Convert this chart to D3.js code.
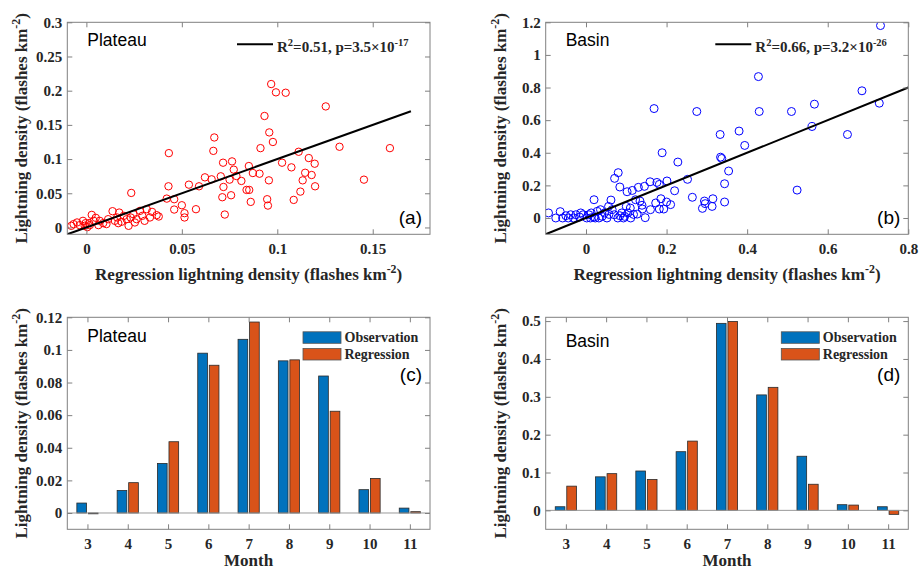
<!DOCTYPE html>
<html>
<head>
<meta charset="utf-8">
<script src="https://cdn.jsdelivr.net/npm/d3@7"></script>
<style>
  html, body { margin: 0; padding: 0; background: #fff; }
</style>
</head>
<body>
<div id="chart"></div>
<script>
// months for the bar panels
const months = [3, 4, 5, 6, 7, 8, 9, 10, 11];
const plateauObs = [0.0061, 0.0138, 0.0304, 0.098, 0.1065, 0.0933, 0.0840, 0.0143, 0.0030];
const plateauReg = [-0.0005, 0.0186, 0.0437, 0.0906, 0.1171, 0.0939, 0.0624, 0.0212, 0.0008];
const basinObs = [0.0096, 0.0886, 0.104, 0.155, 0.494, 0.305, 0.143, 0.015, 0.0096];
const basinReg = [0.064, 0.097, 0.0816, 0.183, 0.499, 0.325, 0.069, 0.014, -0.0105];

// scatter, plateau (regression x, observed y)
const plateauX = [0.0968, 0.0993, 0.1044, 0.1254, 0.0933, 0.0958, 0.0977, 0.0912, 0.067, 0.0665,
  0.1326, 0.159, 0.0432, 0.1112, 0.1165, 0.0716, 0.0763, 0.1025, 0.1196, 0.0851,
  0.1074, 0.0772, 0.0621, 0.0704, 0.0786, 0.0872, 0.0907, 0.1146, 0.118, 0.0656,
  0.075, 0.0812, 0.0956, 0.1133, 0.1454, 0.0537, 0.059, 0.043, 0.0718, 0.0839,
  0.0853, 0.1121, 0.1198, 0.0235, 0.0421, 0.046, 0.0712, 0.0758, 0.0861, 0.0947,
  0.0951, 0.1086, 0.05, 0.046, 0.0574, 0.0514, 0.0514, 0.0725,
  -0.0079, -0.0067, -0.0049, -0.0035, -0.0018, -0.0009, 0.0005, 0.0014, 0.0028, 0.0039,
  0.0049, 0.0063, 0.0088, 0.0114, 0.0137, 0.0149, 0.0161, 0.0172, 0.0184, 0.0196,
  0.0211, 0.0221, 0.0232, 0.0246, 0.0263, 0.0281, 0.0293, 0.0305, 0.0316, 0.0333,
  0.0344, 0.0368, 0.0379, -0.0004, 0.0018, 0.007, 0.0105, 0.0167, 0.0254];
const plateauY = [0.2097, 0.1976, 0.197, 0.177, 0.163, 0.139, 0.125, 0.116, 0.1316, 0.112,
  0.118, 0.116, 0.1087, 0.1107, 0.1015, 0.0947, 0.0966, 0.0947, 0.0932, 0.0898,
  0.0879, 0.0845, 0.0733, 0.0748, 0.0752, 0.0796, 0.0786, 0.08, 0.0767, 0.0704,
  0.0699, 0.068, 0.0689, 0.0689, 0.0699, 0.0626, 0.0602, 0.0602, 0.0592, 0.0549,
  0.0549, 0.0524, 0.0602, 0.0505, 0.0422, 0.0413, 0.0442, 0.0471, 0.0374, 0.0413,
  0.032, 0.0403, 0.0325, 0.0262, 0.0267, 0.0209, 0.0146, 0.0189,
  0.0024, 0.0049, 0.0073, 0.0034, 0.0097, 0.0024, 0.0005, 0.0063, 0.0184, 0.0097,
  0.0141, 0.0034, 0.0063, 0.0121, 0.0238, 0.0097, 0.0146, 0.0218, 0.0083, 0.017,
  0.0121, 0.0024, 0.0146, 0.0194, 0.0121, 0.0243, 0.017, 0.0097, 0.0267, 0.0146,
  0.0228, 0.018, 0.016, 0.0063, 0.0034, 0.0097, 0.0049, 0.0063, 0.0073];

// scatter, basin
const basinX = [0.731, 0.428, 0.685, 0.169, 0.275, 0.43, 0.51, 0.567, 0.728, 0.561,
  0.649, 0.333, 0.38, 0.394, 0.189, 0.228, 0.334, 0.337, 0.354, 0.344,
  0.524, 0.08, 0.071, 0.084, 0.252, 0.201, 0.159, 0.176, 0.182, 0.22,
  0.264, 0.294, 0.296, 0.315, 0.313, 0.344, 0.289, 0.102, 0.115, 0.13,
  0.145, 0.02, 0.062, 0.173, 0.186, 0.2, 0.21, 0.182, 0.193, 0.16,
  0.134, 0.139, 0.123, 0.11, 0.127, 0.14, 0.147, 0.1, 0.056,
  -0.093, -0.075, -0.064, -0.058, -0.05, -0.044, -0.038, -0.031, -0.025, -0.016,
  -0.007, 0.002, 0.007, 0.013, 0.02, 0.028, 0.032, 0.036, 0.04, 0.046,
  0.052, 0.057, 0.065, 0.07, 0.079, 0.084, 0.089, 0.093, 0.096, 0.104,
  0.111, 0.118, 0.023, -0.013, 0.011];
const basinY = [1.18, 0.867, 0.78, 0.671, 0.653, 0.653, 0.653, 0.698, 0.704, 0.561,
  0.512, 0.512, 0.533, 0.445, 0.4, 0.343, 0.373, 0.365, 0.288, 0.21,
  0.171, 0.278, 0.243, 0.19, 0.237, 0.227, 0.222, 0.218, 0.206, 0.167,
  0.127, 0.104, 0.088, 0.118, 0.071, 0.098, 0.059, 0.161, 0.169, 0.188,
  0.194, 0.112, 0.11, 0.092, 0.118, 0.098, 0.082, 0.055, 0.055, 0.051,
  0.104, 0.078, 0.112, 0.061, 0.024, 0.055, 0.002, 0.071, 0.071,
  0.031, 0.0, 0.039, 0.0, 0.014, 0.0, 0.02, 0.0, 0.02, 0.006,
  0.02, 0.0, 0.02, 0.031, 0.006, 0.041, 0.0, 0.051, 0.01, 0.031,
  0.0, 0.022, 0.051, 0.02, 0.0, 0.014, 0.031, 0.0, 0.01, 0.031,
  0.0, 0.022, 0.0, 0.031, 0.0];

// fitted lines (1:1)
const plateauFitX = [-0.01, 0.17], plateauFitY = [-0.01, 0.17];
const basinFitX = [-0.1, 0.8], basinFitY = [-0.1, 0.8];

// tick labels
const plateauScatterXTicks = [0, 0.05, 0.1, 0.15];
const plateauScatterYTicks = [0, 0.05, 0.1, 0.15, 0.2, 0.25, 0.3];
const basinScatterXTicks = [0, 0.2, 0.4, 0.6, 0.8];
const basinScatterYTicks = [0, 0.2, 0.4, 0.6, 0.8, 1, 1.2];
const plateauBarYTicks = [0, 0.02, 0.04, 0.06, 0.08, 0.1, 0.12];
const basinBarYTicks = [0, 0.1, 0.2, 0.3, 0.4, 0.5];

const W = 919, H = 570;
const serif = "'Liberation Serif', 'Times New Roman', serif";
const sans = "'Liberation Sans', Arial, sans-serif";
const axisGray = "#808080";
const textCol = "#262626";

const svg = d3.select("#chart").append("svg")
  .attr("width", W).attr("height", H)
  .attr("xmlns", "http://www.w3.org/2000/svg");

// text with superscript pieces: parts = [[text, isSup], ...]
function supText(sel, parts, size) {
  let up = false;
  parts.forEach(([t, sup]) => {
    const ts = sel.append("tspan").text(t);
    if (sup && !up) { ts.attr("dy", -size * 0.42).attr("font-size", size * 0.7); up = true; }
    else if (sup) { ts.attr("font-size", size * 0.7); }
    else if (up) { ts.attr("dy", size * 0.42); up = false; }
  });
}

const yTitleParts = [["Lightning density (flashes km", false], ["-2", true], [")", false]];
const xTitleParts = [["Regression lightning density (flashes km", false], ["-2", true], [")", false]];

function frame(box, x, y, xTicks, yTicks) {
  const g = svg.append("g");
  const fmt = d => String(d);
  const styleAxis = a => {
    a.select(".domain").remove();
    a.selectAll(".tick line").attr("stroke", axisGray).attr("stroke-width", 1);
    a.selectAll(".tick text").attr("fill", textCol)
      .attr("font-family", serif).attr("font-weight", "bold").attr("font-size", 15);
  };
  g.append("g").attr("transform", `translate(0,${box.bottom})`)
    .call(d3.axisBottom(x).tickValues(xTicks).tickFormat(fmt).tickSize(-5).tickPadding(9))
    .call(styleAxis);
  g.append("g").attr("transform", `translate(${box.left},0)`)
    .call(d3.axisLeft(y).tickValues(yTicks).tickFormat(fmt).tickSize(-5).tickPadding(5))
    .call(styleAxis);
  g.append("g").attr("transform", `translate(0,${box.top})`)
    .call(d3.axisTop(x).tickValues(xTicks).tickFormat("").tickSize(-5))
    .call(styleAxis);
  g.append("g").attr("transform", `translate(${box.right},0)`)
    .call(d3.axisRight(y).tickValues(yTicks).tickFormat("").tickSize(-5))
    .call(styleAxis);
  g.append("rect")
    .attr("x", box.left).attr("y", box.top)
    .attr("width", box.right - box.left).attr("height", box.bottom - box.top)
    .attr("fill", "none").attr("stroke", axisGray).attr("stroke-width", 1);

  // y title
  const cy = (box.top + box.bottom) / 2;
  const yt = g.append("text")
    .attr("transform", `translate(${box.left - 40},${cy}) rotate(-90)`)
    .attr("text-anchor", "middle").attr("font-family", serif).attr("font-weight", "bold")
    .attr("font-size", 17).attr("fill", textCol);
  supText(yt, yTitleParts, 17);
  return g;
}

function cornerLabels(box, name, nameY, letter, letterY) {
  svg.append("text").attr("x", box.left + 20).attr("y", nameY)
    .attr("font-family", sans).attr("font-size", 17.5).attr("fill", "#000").text(name);
  svg.append("text").attr("x", box.right - 8).attr("y", letterY)
    .attr("text-anchor", "end").attr("font-family", sans).attr("font-size", 19)
    .attr("fill", "#000").text(letter);
}

function scatterPanel(box, xDom, yDom, xs, ys, fitX, fitY, xTicks, yTicks, color, r, name, letter, stat, id) {
  const x = d3.scaleLinear().domain(xDom).range([box.left, box.right]);
  const y = d3.scaleLinear().domain(yDom).range([box.bottom, box.top]);

  svg.append("clipPath").attr("id", id).append("rect")
    .attr("x", box.left).attr("y", box.top)
    .attr("width", box.right - box.left).attr("height", box.bottom - box.top);

  const pts = xs.map((v, i) => ({ x: v, y: ys[i] }));
  const plot = svg.append("g").attr("clip-path", `url(#${id})`);
  plot.selectAll("circle").data(pts).join("circle")
    .attr("cx", d => x(d.x)).attr("cy", d => y(d.y)).attr("r", r)
    .attr("fill", "none").attr("stroke", color).attr("stroke-width", 1);

  const fit = fitX.map((v, i) => [v, fitY[i]]);
  plot.append("path").datum(fit)
    .attr("d", d3.line().x(d => x(d[0])).y(d => y(d[1])))
    .attr("stroke", "#000").attr("stroke-width", 2).attr("fill", "none");

  frame(box, x, y, xTicks, yTicks);

  const xt = svg.append("text")
    .attr("x", (box.left + box.right) / 2).attr("y", box.bottom + 46)
    .attr("text-anchor", "middle").attr("font-family", serif).attr("font-weight", "bold")
    .attr("font-size", 17).attr("fill", textCol);
  supText(xt, xTitleParts, 17);

  // legend
  const lx = box.right - 193;
  svg.append("line").attr("x1", lx).attr("x2", lx + 36).attr("y1", box.top + 22).attr("y2", box.top + 22)
    .attr("stroke", "#000").attr("stroke-width", 2);
  const lt = svg.append("text").attr("x", lx + 40).attr("y", box.top + 30)
    .attr("font-family", serif).attr("font-weight", "bold").attr("font-size", 15).attr("fill", textCol);
  supText(lt, stat, 15);

  cornerLabels(box, name, box.top + 23.5, letter, box.bottom - 10);
}

function barPanel(box, yDom, obs, reg, yTicks, name, nameY, letter) {
  const x = d3.scaleLinear().domain([2.5, 11.5]).range([box.left, box.right]);
  const y = d3.scaleLinear().domain(yDom).range([box.bottom, box.top]);
  const bw = 0.24, off = 0.143;
  const series = [
    { vals: obs, dx: -off, fill: "#0072BD" },
    { vals: reg, dx: off, fill: "#D95319" }
  ];
  series.forEach(s => {
    svg.append("g").selectAll("rect").data(months.map((m, i) => ({ m, v: s.vals[i] }))).join("rect")
      .attr("x", d => x(d.m + s.dx - bw / 2))
      .attr("width", x(bw) - x(0))
      .attr("y", d => y(Math.max(0, d.v)))
      .attr("height", d => Math.abs(y(d.v) - y(0)))
      .attr("fill", s.fill).attr("stroke", "#2a2a2a").attr("stroke-width", 0.8);
  });
  // baseline
  svg.append("line").attr("x1", box.left).attr("x2", box.right)
    .attr("y1", y(0)).attr("y2", y(0)).attr("stroke", "#9a9a9a").attr("stroke-width", 1);

  frame(box, x, y, months, yTicks);

  svg.append("text").attr("x", (box.left + box.right) / 2).attr("y", box.bottom + 37)
    .attr("text-anchor", "middle").attr("font-family", serif).attr("font-weight", "bold")
    .attr("font-size", 17).attr("fill", textCol).text("Month");

  // legend
  const lx = box.right - 127;
  [["Observation", "#0072BD"], ["Regression", "#D95319"]].forEach(([t, c], i) => {
    const yy = box.top + 14.5 + i * 16.7;
    svg.append("rect").attr("x", lx).attr("y", yy).attr("width", 38).attr("height", 11.5)
      .attr("fill", c).attr("stroke", "#555").attr("stroke-width", 0.8);
    svg.append("text").attr("x", lx + 41.5).attr("y", yy + 10.5)
      .attr("font-family", serif).attr("font-weight", "bold").attr("font-size", 14)
      .attr("fill", textCol).text(t);
  });

  cornerLabels(box, name, nameY, letter, box.top + 64);
}

const boxA = { left: 67.3, right: 430, top: 22.3, bottom: 234.3 };
const boxB = { left: 545.7, right: 908.3, top: 22.3, bottom: 234.3 };
const boxC = { left: 67.3, right: 430, top: 317.3, bottom: 529.3 };
const boxD = { left: 545.7, right: 908.3, top: 317.3, bottom: 529.3 };

scatterPanel(boxA, [-0.01, 0.18], [-0.01, 0.3], plateauX, plateauY, plateauFitX, plateauFitY,
  plateauScatterXTicks, plateauScatterYTicks, "#FF0000", 3.7, "Plateau", "(a)",
  [["R", false], ["2", true], ["=0.51, p=3.5\u00d710", false], ["-17", true]], "clipA");
scatterPanel(boxB, [-0.1, 0.8], [-0.1, 1.2], basinX, basinY, basinFitX, basinFitY,
  basinScatterXTicks, basinScatterYTicks, "#0000FF", 4, "Basin", "(b)",
  [["R", false], ["2", true], ["=0.66, p=3.2\u00d710", false], ["-26", true]], "clipB");
barPanel(boxC, [-0.01, 0.12], plateauObs, plateauReg, plateauBarYTicks, "Plateau", 341.5, "(c)");
barPanel(boxD, [-0.05, 0.51], basinObs, basinReg, basinBarYTicks, "Basin", 347, "(d)");
</script>
</body>
</html>
